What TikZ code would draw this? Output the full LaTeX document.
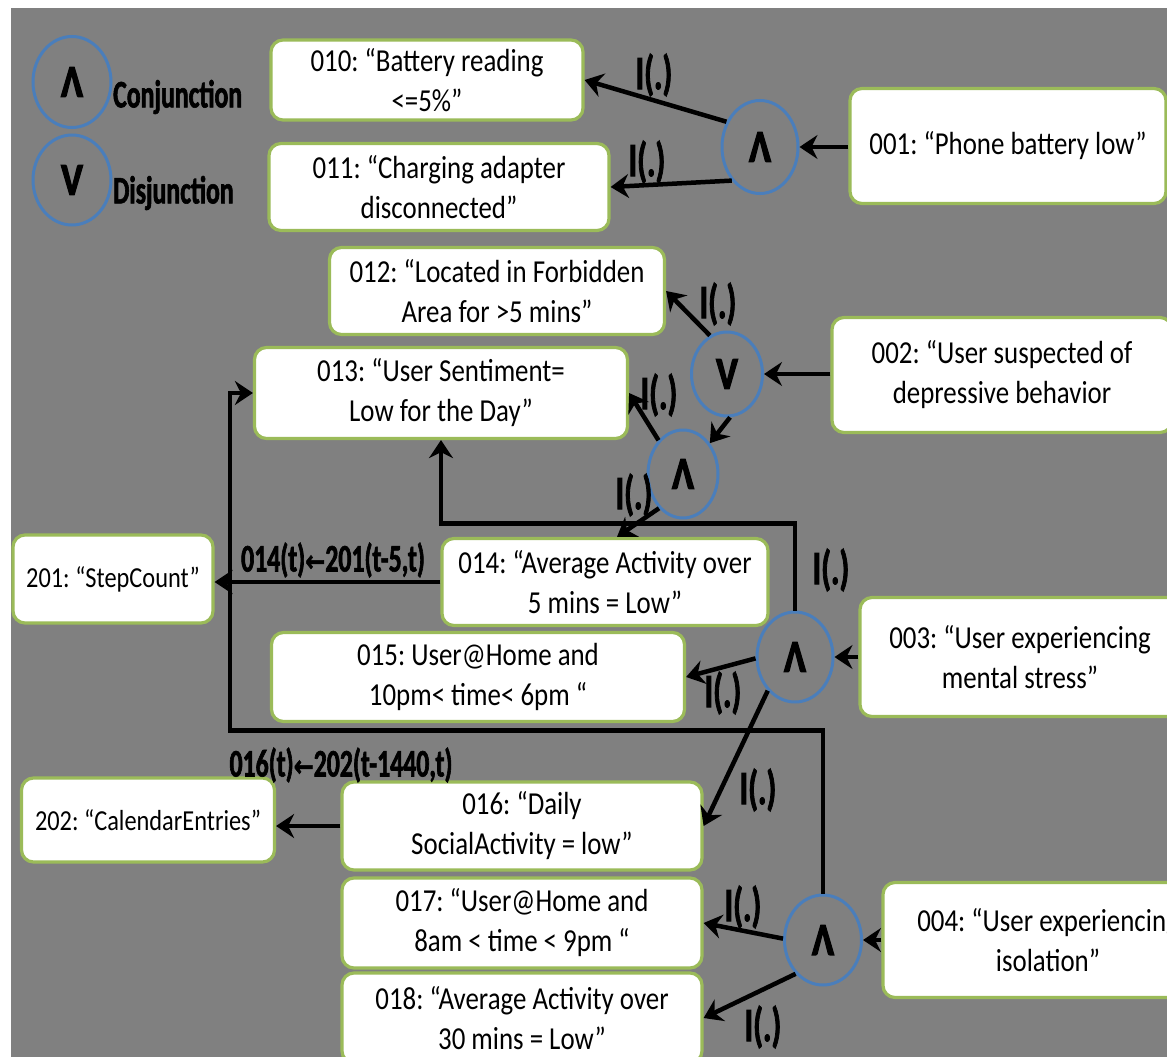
\documentclass[tikz,border=0pt]{standalone}
\usepackage{fontspec}
\setmainfont{Carlito}[FakeStretch=0.84]
\newfontfamily\lblfont{Carlito}[FakeStretch=0.66,FakeBold=1.6]
\newfontfamily\gatefont{Carlito}[FakeStretch=0.8,FakeBold=2.5]
\newfontfamily\arrfont{DejaVu Sans}[FakeStretch=0.8,FakeBold=1.5]
\usetikzlibrary{shapes.geometric,arrows.meta,calc}
\definecolor{bggray}{HTML}{808080}
\definecolor{boxgreen}{HTML}{9BBB59}
\definecolor{circblue}{HTML}{4A7EBB}
\frenchspacing
\begin{document}
\begin{tikzpicture}[x=1pt,y=-1pt,
  box/.style={draw=boxgreen, line width=3.2pt, fill=white, rounded corners=12pt, align=center, inner sep=0pt, font=\fontsize{32}{40}\selectfont},
  sbox/.style={box, font=\fontsize{29}{36}\selectfont},
  gate/.style={ellipse, draw=circblue, line width=3pt, inner sep=0pt, font=\gatefont\bfseries\fontsize{46}{46}\selectfont},
  arr/.style={line width=4.5pt, -{Stealth[length=18pt,width=24pt,inset=6pt]}},
  lbl/.style={font=\lblfont\bfseries\fontsize{48}{48}\selectfont, inner sep=0pt},
  flbl/.style={font=\lblfont\bfseries\fontsize{39}{39}\selectfont, inner sep=0pt},
]
\useasboundingbox (0,0) rectangle (1167,1057);
\clip (0,0) rectangle (1167,1057);
\fill[white] (0,0) rectangle (1167,1057);
\fill[bggray] (11,8) rectangle (1167,1057);

% legend
\node[gate, minimum width=78pt, minimum height=91pt] (lgand) at (72,82) {Λ};
\node[gate, minimum width=78pt, minimum height=90pt] (lgor) at (72,180) {V};
\node[flbl, anchor=west] (lgandt) at (113,97) {Conjunction};
\node[flbl, anchor=west] (lgort) at (113,193) {Disjunction};

% boxes
\node[box, minimum width=312pt, minimum height=80pt] (b010) at (427,80) {010:  “Battery reading\\<=5\%”};
\node[box, minimum width=340pt, minimum height=87pt] (b011) at (439,187) {011: “Charging adapter\\disconnected”};
\node[box, minimum width=316pt, minimum height=115pt] (b001) at (1008,146) {001: “Phone battery low”};
\node[box, minimum width=335pt, minimum height=87pt] (b012) at (497,291) {012: “Located in Forbidden\\Area for >5 mins”};
\node[box, minimum width=373pt, minimum height=91pt] (b013) at (441,393) {013: “User Sentiment=\\Low for the Day”};
\node[box, minimum width=340pt, minimum height=115pt] (b002) at (1002,375) {002: “User suspected of\\depressive behavior};
\node[sbox, minimum width=200pt, minimum height=88pt] (b201) at (113,579) {201: “StepCount”};
\node[box, minimum width=326pt, minimum height=87pt] (b014) at (605,582) {014: “Average Activity over\\5 mins = Low”};
\node[box, minimum width=413pt, minimum height=89pt] (b015) at (478,677) {015: User@Home and\\10pm< time< 6pm “};
\node[box, minimum width=320pt, minimum height=119pt] (b003) at (1020,657) {003: “User experiencing\\mental stress”};
\node[sbox, minimum width=253pt, minimum height=84pt] (b202) at (148,820) {202: “CalendarEntries”};
\node[box, minimum width=360pt, minimum height=88pt] (b016) at (522,826) {016: “Daily\\SocialActivity  = low”};
\node[box, minimum width=360pt, minimum height=90pt] (b017) at (522,923) {017: “User@Home and\\8am < time < 9pm “};
\node[box, minimum width=360pt, minimum height=90pt] (b018) at (522,1018) {018: “Average Activity over\\30 mins = Low”};
\node[box, minimum width=330pt, minimum height=115pt] (b004) at (1048,940) {004: “User experiencing\\isolation”};

% gates
\node[gate, minimum width=76pt, minimum height=93pt] (c1) at (760,147) {Λ};
\node[gate, minimum width=71pt, minimum height=84pt] (c2) at (727,374) {V};
\node[gate, minimum width=70pt, minimum height=88pt] (c3) at (683,474) {Λ};
\node[gate, minimum width=76pt, minimum height=90pt] (c4) at (795,657) {Λ};
\node[gate, minimum width=77pt, minimum height=90pt] (c5) at (823,940) {Λ};

% connectors
\draw[arr] (b001.west |- c1.east) -- (c1.east);
\draw[arr] (c1.143) -- (b010.east);
\draw[arr] (c1.230) -- (b011.east);
\draw[arr] (b002.west |- c2.east) -- (c2.east);
\draw[arr] (c2.114) -- (b012.east);
\draw[arr] (c2.274) -- (c3.49);
\draw[arr] (c3.126) -- (b013.east);
\draw[arr] (c3.235) -- ($(b014.north)+(12,0)$);
\draw[arr] (c4.north) -- ++(0,-87) -| (b013.south);
\draw[arr] (b003.west |- c4.east) -- (c4.east);
\draw[arr] (c4.182) -- (b015.east);
\draw[arr] (c4.231) -- (b016.east);
\draw[arr] (c5.north) -- ++(0,-163) -| ($(b013.west)+(-23,0)$) -- (b013.west);
\draw[arr] (b014.west) -- (b014.west -| b201.east);
\draw[arr] (b016.west) -- (b016.west -| b202.east);
\draw[arr] (b004.west |- c5.east) -- (c5.east);
\draw[arr] (c5.178) -- (b017.east);
\draw[arr] (c5.231) -- (b018.east);

% labels
\node[lbl] (l1) at (654,75) {I(.)};
\node[lbl] (l2) at (647,162) {I(.)};
\node[lbl] (l3) at (718,304) {I(.)};
\node[lbl] (l4) at (659,395) {I(.)};
\node[lbl] (l5) at (634,495) {I(.)};
\node[lbl] (l6) at (831,570) {I(.)};
\node[lbl] (l7) at (723,693) {I(.)};
\node[lbl] (l8) at (758,790) {I(.)};
\node[lbl] (l9) at (743,907) {I(.)};
\node[lbl] (l10) at (763,1027) {I(.)};
\node[flbl] (f1) at (333,560) {014(t){\arrfont\bfseries\fontsize{30}{30}\selectfont ←}201(t-5,t)};
\node[flbl] (f2) at (341,765) {016(t){\arrfont\bfseries\fontsize{30}{30}\selectfont ←}202(t-1440,t)};
\end{tikzpicture}
\end{document}
